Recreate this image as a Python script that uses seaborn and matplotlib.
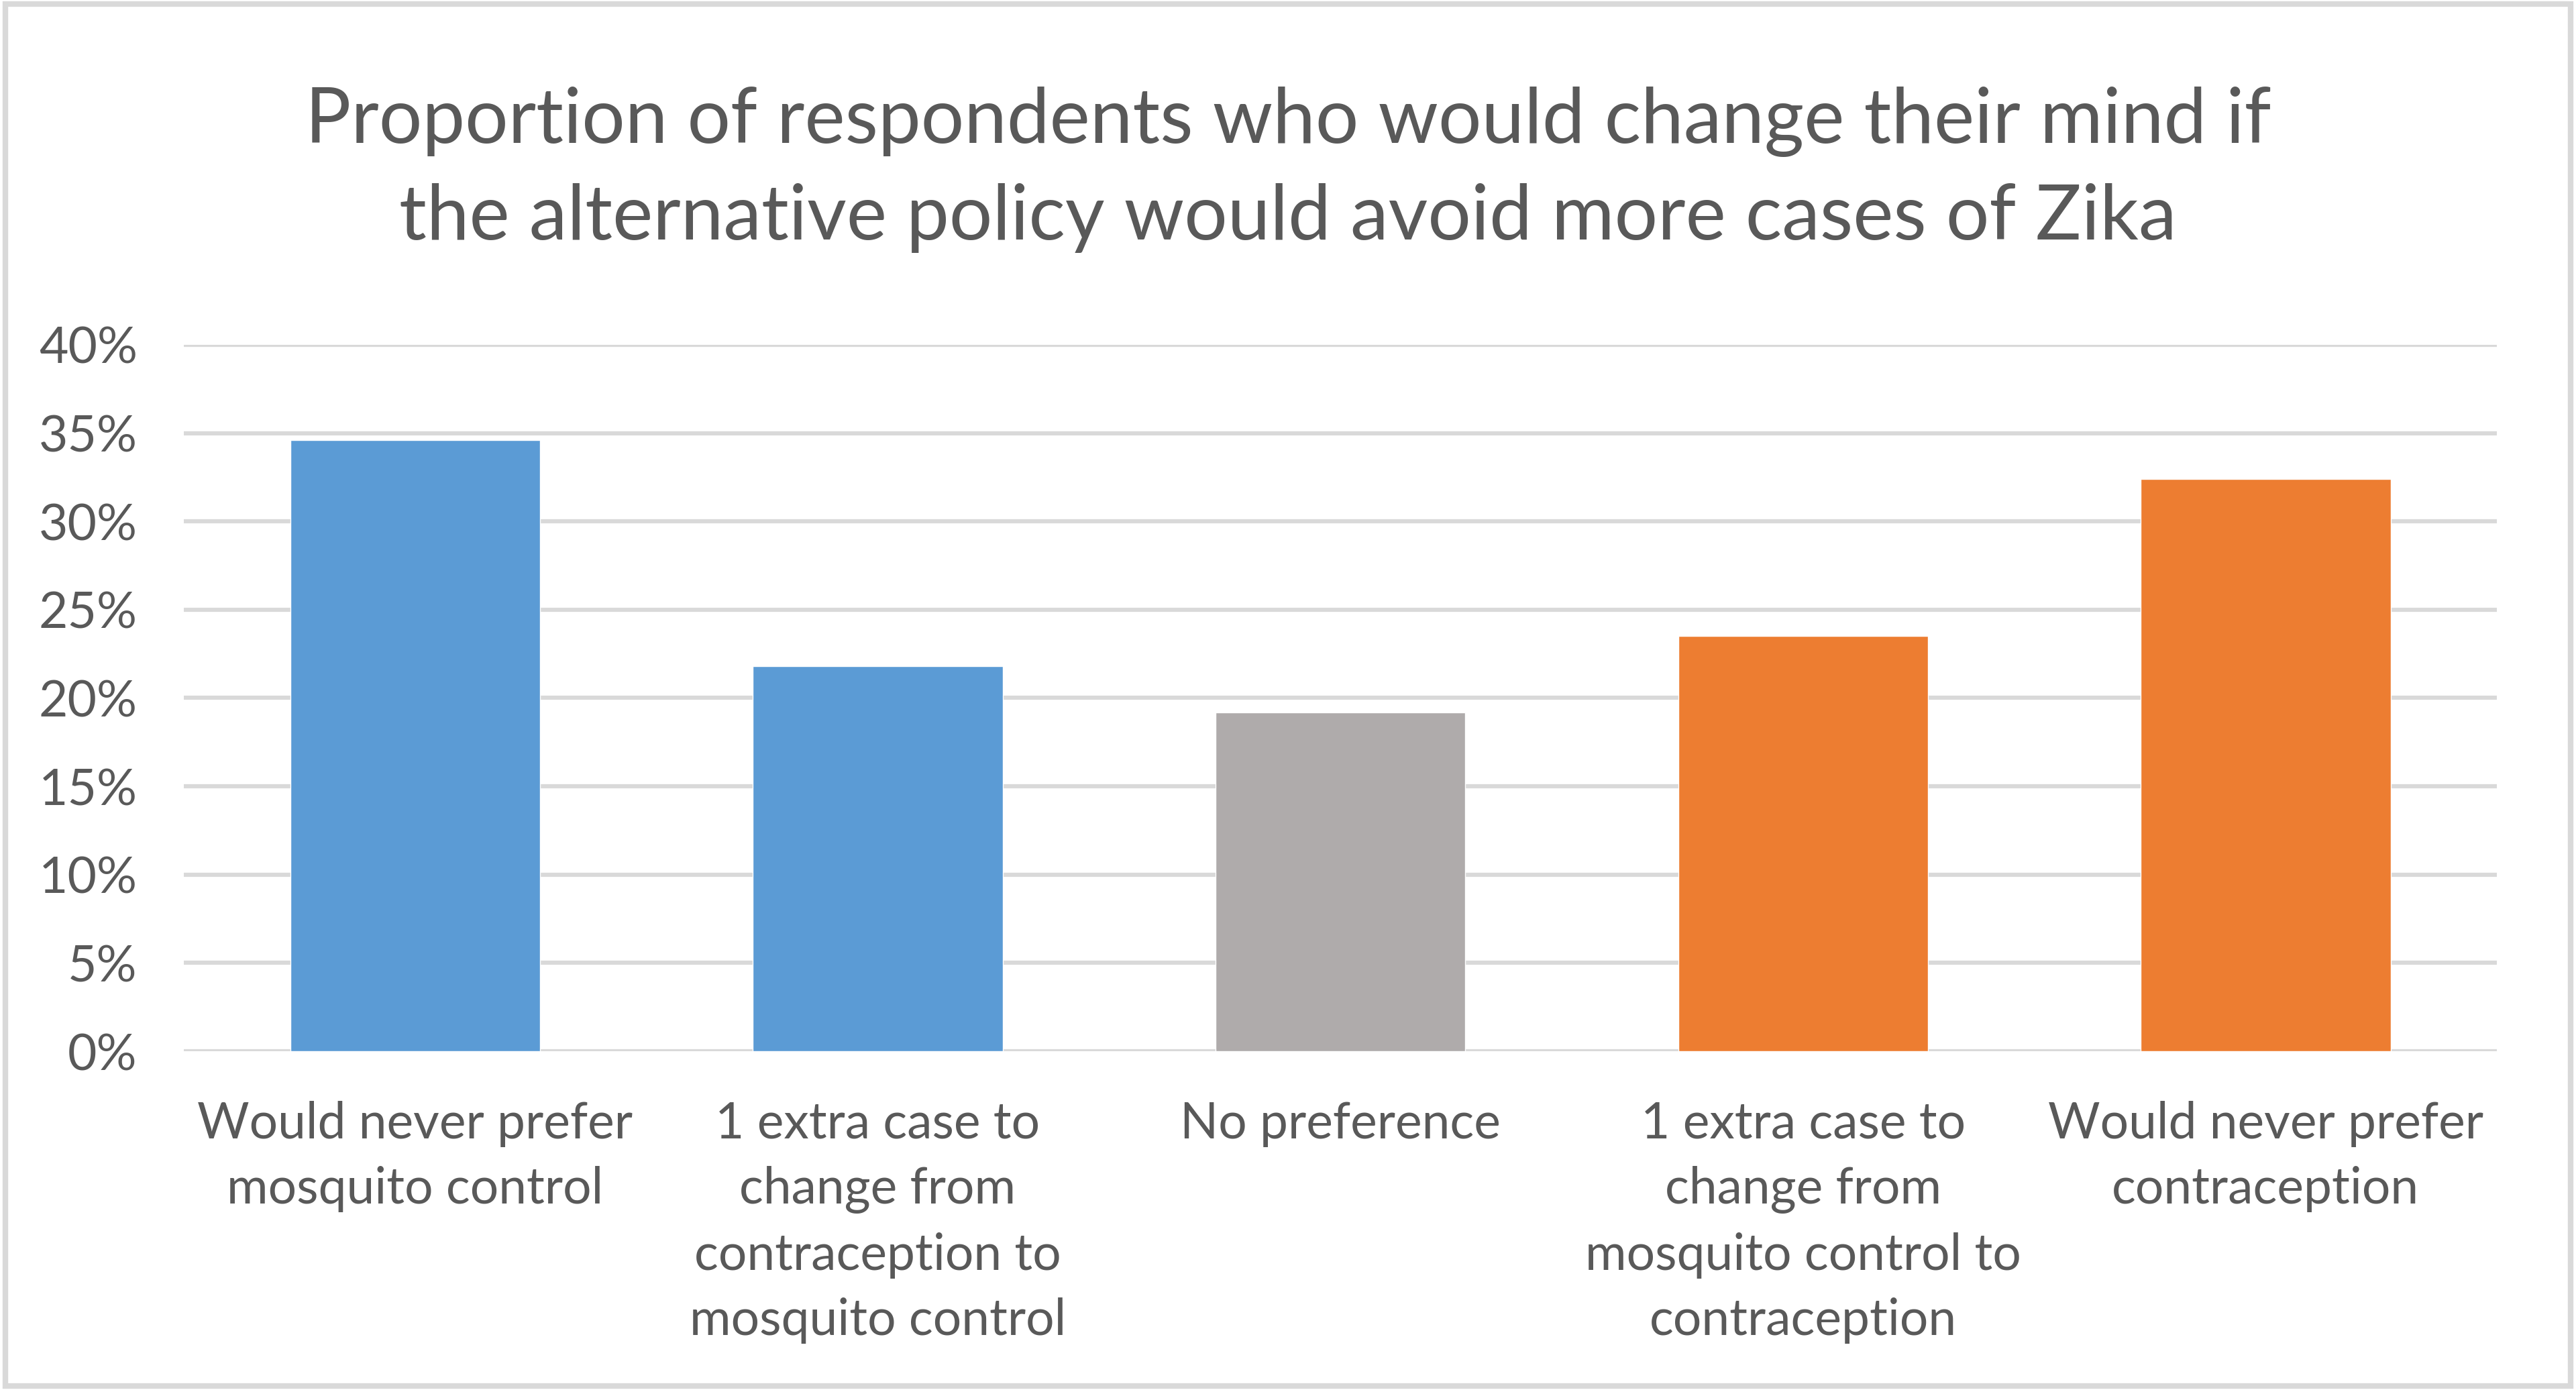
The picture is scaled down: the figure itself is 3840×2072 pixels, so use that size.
import matplotlib
matplotlib.use('Agg')
import matplotlib.pyplot as plt
import seaborn as sns
import pandas as pd
from matplotlib.ticker import PercentFormatter
from matplotlib.patches import Rectangle

# Data
categories = ['Would never prefer\nmosquito control',
              '1 extra case to\nchange from\ncontraception to\nmosquito control',
              'No preference',
              '1 extra case to\nchange from\nmosquito control to\ncontraception',
              'Would never prefer\ncontraception']
values = [34.6, 21.8, 19.2, 23.5, 32.4]
bar_colors = ['#5B9BD5', '#5B9BD5', '#AFABAB', '#ED7D31', '#ED7D31']
yticks = [0, 5, 10, 15, 20, 25, 30, 35, 40]

title = ('Proportion of respondents who would change their mind if\n'
         'the alternative policy would avoid more cases of Zika')

text_color = '#595959'
grid_color = '#D9D9D9'

sns.set_style('white')
plt.rcParams['font.family'] = ['Lato', 'DejaVu Sans']

df = pd.DataFrame({'category': categories, 'value': values})

fig = plt.figure(figsize=(38.4, 20.72), dpi=100)
ax = fig.add_axes([0.0714, 0.2437, 0.8979, 0.5083])

sns.barplot(data=df, x='category', y='value', hue='category',
            palette=bar_colors, width=0.54, saturation=1,
            legend=False, ax=ax, zorder=3)

ax.set_ylim(0, 40)
ax.set_xlim(-0.5, 4.5)
ax.set_yticks(yticks)
ax.yaxis.set_major_formatter(PercentFormatter(decimals=0))
ax.grid(axis='y', color=grid_color, linewidth=4.5, zorder=0)
ax.grid(axis='x', visible=False)
for s in ax.spines.values():
    s.set_visible(False)

ax.set_xlabel('')
ax.set_ylabel('')
ax.tick_params(axis='both', length=0, colors=text_color, labelsize=54)
ax.tick_params(axis='y', pad=50)
ax.tick_params(axis='x', pad=53)
for lbl in ax.get_xticklabels():
    lbl.set_linespacing(1.5)
    lbl.set_verticalalignment('top')

fig.text(0.5, 0.878, title, ha='center', va='center', fontsize=82,
         color=text_color, linespacing=1.47)

# chart border
fig.patches.append(Rectangle((0.002, 0.003), 0.996, 0.994, transform=fig.transFigure,
                             fill=False, edgecolor=grid_color, linewidth=6))

fig.savefig('out.png', dpi=100, facecolor='white')
